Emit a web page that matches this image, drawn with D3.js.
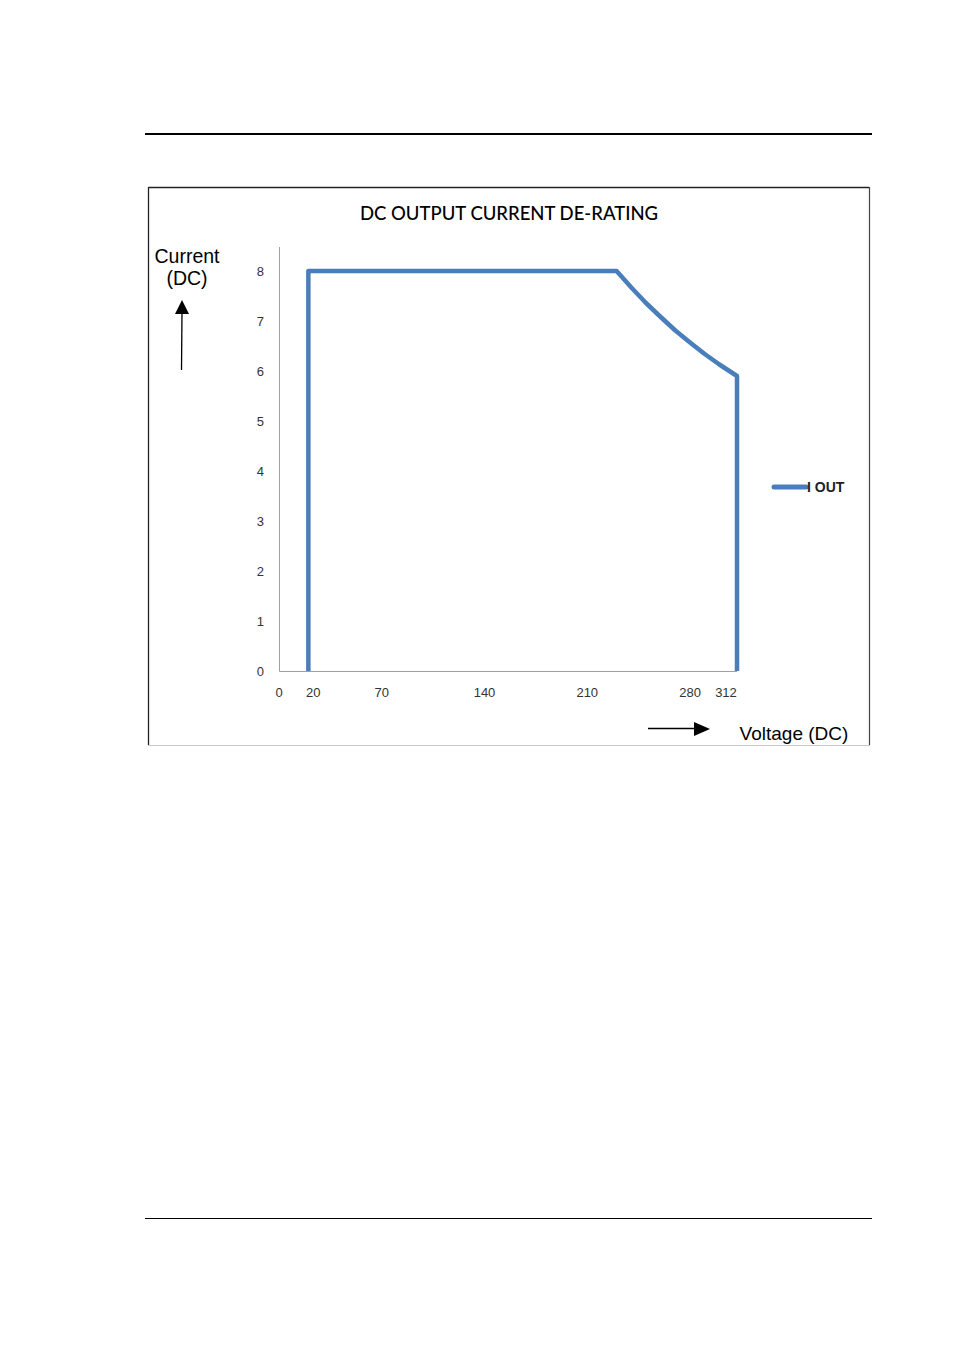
<!DOCTYPE html>
<html><head><meta charset="utf-8">
<script src="https://cdn.jsdelivr.net/npm/d3@7/dist/d3.min.js"></script>
<style>body{margin:0;background:#fff}svg{display:block}</style>
</head><body>
<script>
const title = "DC OUTPUT CURRENT DE-RATING";
const seriesName = "I OUT";
const voltage = [20, 20, 230, 240, 250, 260, 270, 280, 290, 300, 312, 312];
const current = [0, 8, 8, 7.67, 7.36, 7.08, 6.81, 6.57, 6.34, 6.13, 5.9, 0];
const xTicks = [0, 20, 70, 140, 210, 280, 312];
const xTickShift = [0, 5, 0, 0, 0, 0, -11];
const yTicks = [0, 1, 2, 3, 4, 5, 6, 7, 8];

const W = 954, H = 1351;
const svg = d3.select("body").append("svg").attr("width", W).attr("height", H);

// page rules
svg.append("line").attr("x1",145).attr("x2",872).attr("y1",134).attr("y2",134).attr("stroke","#000").attr("stroke-width",2.2);
svg.append("line").attr("x1",145).attr("x2",872).attr("y1",1218.5).attr("y2",1218.5).attr("stroke","#000").attr("stroke-width",1.2);

// chart frame
svg.append("line").attr("x1",148.5).attr("x2",869).attr("y1",187.5).attr("y2",187.5).attr("stroke","#222").attr("stroke-width",1.3);
svg.append("line").attr("x1",148.5).attr("x2",148.5).attr("y1",187).attr("y2",745).attr("stroke","#222").attr("stroke-width",1.3);
svg.append("line").attr("x1",869.5).attr("x2",869.5).attr("y1",187).attr("y2",745).attr("stroke","#444").attr("stroke-width",1.2);
svg.append("line").attr("x1",148).attr("x2",870).attr("y1",745.5).attr("y2",745.5).attr("stroke","#c8c8c8").attr("stroke-width",1);

const x = d3.scaleLinear().domain([0, 312]).range([279, 737]);
const y = d3.scaleLinear().domain([0, 8]).range([671, 271]);

// axes lines
svg.append("line").attr("x1",279.5).attr("x2",279.5).attr("y1",247).attr("y2",671.5).attr("stroke","#a0a0a0").attr("stroke-width",1);
svg.append("line").attr("x1",279.5).attr("x2",x(312)).attr("y1",671.5).attr("y2",671.5).attr("stroke","#a0a0a0").attr("stroke-width",1);

const tickFont = "'Liberation Sans', Arial, sans-serif";
svg.append("g").selectAll("text").data(yTicks).join("text")
  .attr("x", 264).attr("y", d => y(d) + 5)
  .attr("text-anchor","end").attr("font-family", tickFont).attr("font-size", 13).attr("fill","#333")
  .text(d => d);
svg.append("g").selectAll("text").data(xTicks).join("text")
  .attr("x", (d,i) => x(d) + xTickShift[i]).attr("y", 697)
  .attr("text-anchor","middle").attr("font-family", tickFont).attr("font-size", 13).attr("fill","#333")
  .text(d => d);

// title
svg.append("text").attr("x", 509).attr("y", 220).attr("text-anchor","middle")
  .attr("font-family","Lato, 'Open Sans', sans-serif").attr("font-size", 18.5).attr("font-weight", 500).attr("fill","#000")
  .text(title);

// axis titles
const labFont = "'Liberation Sans', Arial, sans-serif";
svg.append("text").attr("x",187).attr("y",263).attr("text-anchor","middle").attr("font-family",labFont).attr("font-size",19.5).text("Current");
svg.append("text").attr("x",187).attr("y",285).attr("text-anchor","middle").attr("font-family",labFont).attr("font-size",19.5).text("(DC)");
svg.append("text").attr("x",794).attr("y",740).attr("text-anchor","middle").attr("font-family",labFont).attr("font-size",19).text("Voltage (DC)");

// arrows
svg.append("line").attr("x1",181.5).attr("x2",182).attr("y1",370).attr("y2",312).attr("stroke","#000").attr("stroke-width",1.3);
svg.append("path").attr("d","M182,300 L175,314 L189,314 Z").attr("fill","#000");
svg.append("line").attr("x1",648).attr("x2",696).attr("y1",728.5).attr("y2",728.5).attr("stroke","#000").attr("stroke-width",1.3);
svg.append("path").attr("d","M710,729 L694,722 L694,736 Z").attr("fill","#000");

// series
const pts = voltage.map((v,i) => [v, current[i]]);
const line = d3.line().x(d => x(d[0])).y(d => y(d[1]));
svg.append("path").datum(pts).attr("d", line)
  .attr("fill","none").attr("stroke","#4a7ebb").attr("stroke-width",4.5).attr("stroke-linejoin","round");

// legend
svg.append("line").attr("x1",774).attr("x2",806).attr("y1",487).attr("y2",487).attr("stroke","#4a7ebb").attr("stroke-width",5).attr("stroke-linecap","round");
svg.append("text").attr("x",807).attr("y",492).attr("font-family",labFont).attr("font-size",14).attr("font-weight","bold").attr("fill","#222").text(seriesName);
</script>
</body></html>
